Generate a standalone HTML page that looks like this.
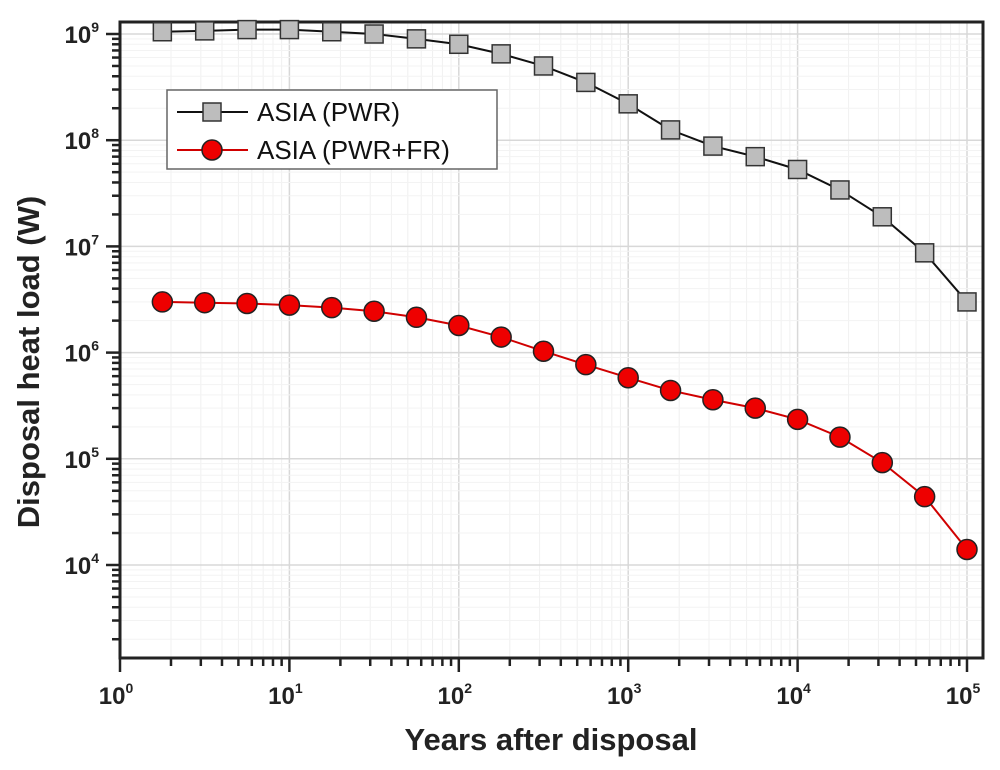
<!DOCTYPE html>
<html><head><meta charset="utf-8"><style>
body{margin:0;background:#fff}
svg{display:block;font-family:"Liberation Sans",Arial,sans-serif}
</style></head><body>
<svg id="c" width="1000" height="770" viewBox="0 0 1000 770"></svg>
<script>
const xExps=[0.25,0.5,0.75,1,1.25,1.5,1.75,2,2.25,2.5,2.75,3,3.25,3.5,3.75,4,4.25,4.5,4.75,5];
const pwrValues=[1.05e9,1.07e9,1.1e9,1.1e9,1.05e9,1e9,9e8,8e8,6.5e8,5e8,3.5e8,2.2e8,1.25e8,8.8e7,7e7,5.3e7,3.4e7,1.9e7,8.7e6,3e6];
const frValues=[3e6,2.95e6,2.9e6,2.8e6,2.65e6,2.45e6,2.15e6,1.8e6,1.4e6,1.03e6,7.7e5,5.8e5,4.4e5,3.6e5,3e5,2.35e5,1.6e5,9.2e4,4.4e4,1.4e4];
const xTickExps=[0,1,2,3,4,5];
const yTickExps=[4,5,6,7,8,9];
const seriesNames=["ASIA (PWR)","ASIA (PWR+FR)"];

const NS="http://www.w3.org/2000/svg";
const svg=document.getElementById('c');
const L=120,R=983,T=22,B=658;
const xs=e=>120+e*169.4;
const ys=v=>34+(9-Math.log10(v))*106.2;
function mk(t,a,p){const e=document.createElementNS(NS,t);for(const k in a)e.setAttribute(k,a[k]);(p||svg).appendChild(e);return e;}

const grid=mk('g',{});


for(let d=0;d<=5;d++)for(let m=1;m<10;m++){const x=xs(d+Math.log10(m));if(x>R-1)continue;
 mk('line',{x1:x,x2:x,y1:T,y2:B,stroke:m==1?'#d8d8d8':'#f0f0f0','stroke-width':m==1?1.5:1},grid);}
for(let d=3;d<=9;d++)for(let m=1;m<10;m++){const y=ys(m*Math.pow(10,d));if(y<T+1||y>B)continue;
 mk('line',{x1:L,x2:R,y1:y,y2:y,stroke:m==1?'#d8d8d8':'#f3f3f3','stroke-width':m==1?1.5:1},grid);}

const fr=mk('rect',{x:L,y:T,width:R-L,height:B-T,fill:'none',stroke:'#222','stroke-width':3});



const ax=mk('g',{});


for(let d=0;d<=5;d++)for(let m=1;m<10;m++){const x=xs(d+Math.log10(m));if(x>R)continue;
 mk('line',{x1:x,x2:x,y1:B,y2:B+(m==1?14:8),stroke:'#222','stroke-width':2.5},ax);}
xTickExps.forEach(e=>{const t=mk('text',{x:xs(e)-4,y:704,'font-size':24,'font-weight':'bold','text-anchor':'middle',fill:'#222'},ax);
 
 
 t.innerHTML='10<tspan dy="-11" font-size="14">'+e+'</tspan>';});
const ay=mk('g',{});


for(let d=3;d<=9;d++)for(let m=1;m<10;m++){const y=ys(m*Math.pow(10,d));if(y<T||y>B)continue;
 mk('line',{x1:L,x2:L-(m==1?14:8),y1:y,y2:y,stroke:'#222','stroke-width':2.5},ay);}
yTickExps.forEach(e=>{const t=mk('text',{x:99,y:ys(Math.pow(10,e))+9,'font-size':24,'font-weight':'bold','text-anchor':'end',fill:'#222'},ay);
 
 
 t.innerHTML='10<tspan dy="-11" font-size="14">'+e+'</tspan>';});

const xt=mk('text',{x:551,y:750,'font-size':31,'font-weight':'bold','text-anchor':'middle',fill:'#222'});
xt.textContent='Years after disposal';


const yt=mk('text',{x:0,y:0,'font-size':31,'font-weight':'bold','text-anchor':'middle',fill:'#222',transform:'translate(39,362) rotate(-90)'});
yt.textContent='Disposal heat load (W)';



function series(vals,color,marker,name){
 const g=mk('g',{});
 
 
 const pts=vals.map((v,i)=>xs(xExps[i])+','+ys(v)).join(' ');
 mk('polyline',{points:pts,fill:'none',stroke:color,'stroke-width':2},g);
 vals.forEach((v,i)=>{const x=xs(xExps[i]),y=ys(v);let m;
  if(marker=='sq')m=mk('rect',{x:x-9,y:y-9,width:18,height:18,fill:'#bdbdbd',stroke:'#333','stroke-width':1.5},g);
  else m=mk('circle',{cx:x,cy:y,r:10,fill:'#ee0000',stroke:'#222','stroke-width':1.5},g);
  
  });
}
series(pwrValues,'#111','sq','series-pwr');
series(frValues,'#d00000','ci','series-pwr-fr');

const lg=mk('g',{});


mk('rect',{x:167,y:90,width:330,height:79,fill:'#fff',stroke:'#666','stroke-width':1.5},lg);
mk('line',{x1:177,x2:248,y1:112,y2:112,stroke:'#111','stroke-width':2},lg);
mk('rect',{x:203,y:103,width:18,height:18,fill:'#bdbdbd',stroke:'#333','stroke-width':1.5},lg);
mk('line',{x1:177,x2:248,y1:150,y2:150,stroke:'#d00000','stroke-width':2},lg);
mk('circle',{cx:212,cy:150,r:10,fill:'#ee0000',stroke:'#222','stroke-width':1.5},lg);
seriesNames.forEach((n,i)=>{const t=mk('text',{x:257,y:121+i*38,'font-size':26,fill:'#111'},lg);
 t.textContent=n;
 
 });
</script>
</body></html>
